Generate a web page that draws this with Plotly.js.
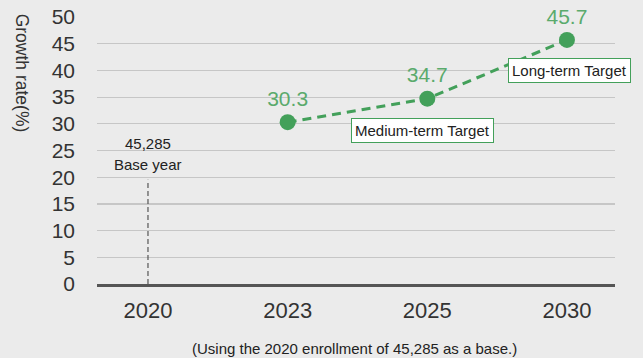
<!DOCTYPE html>
<html><head><meta charset="utf-8">
<script src="https://cdn.plot.ly/plotly-3.0.1.min.js"></script>
<style>html,body{margin:0;padding:0;background:#ebebeb;}</style>
</head><body><div id="chart" style="width:643px;height:358px;"></div>
<script>
const years = ['2020', '2023', '2025', '2030'];
const targetYears = ['2023', '2025', '2030'];
const growthRates = [30.3, 34.7, 45.7];
const rateLabels = ['30.3', '34.7', '45.7'];
const baseYear = '2020';
const baseEnrollmentLabel = '45,285';
const baseLineTop = 19.5;
const yTicks = [0, 5, 10, 15, 20, 25, 30, 35, 40, 45, 50];

const green = '#43a05a';
const font = 'Liberation Sans, Arial, Helvetica, sans-serif';
const idx = y => years.indexOf(y);

const traces = [
  {
    x: [baseYear, baseYear], y: [0, baseLineTop], mode: 'lines',
    line: {color: '#555555', width: 1.2, dash: '5px,3px'},
    hoverinfo: 'skip', showlegend: false
  },
  {
    x: targetYears, y: growthRates, mode: 'lines+markers+text',
    text: rateLabels, textposition: 'top center', cliponaxis: false,
    textfont: {family: font, size: 21, color: '#5aaa6c'},
    line: {color: green, width: 3, dash: '9px,6px'},
    marker: {color: green, size: 16},
    showlegend: false
  }
];

const layout = {
  width: 643, height: 358,
  margin: {l: 97, r: 28, t: 17, b: 74},
  paper_bgcolor: '#ebebeb', plot_bgcolor: '#ebebeb',
  font: {family: font, color: '#333333'},
  xaxis: {
    type: 'category', categoryorder: 'array', categoryarray: years,
    range: [-0.365, 3.344], showgrid: false, zeroline: false,
    showline: true, linecolor: '#555555', linewidth: 2.5,
    ticks: '', tickfont: {family: font, size: 22, color: '#333333'},
    ticklabelstandoff: 5, fixedrange: true
  },
  yaxis: {
    range: [0, 50], tickvals: yTicks, showgrid: true,
    gridcolor: '#c6c6c6', gridwidth: 1.2, zeroline: false,
    showline: false, ticks: '',
    tickfont: {family: font, size: 21, color: '#333333'},
    ticklabelstandoff: 21, fixedrange: true
  },
  annotations: [
    {xref: 'paper', yref: 'paper', x: -0.144, y: 0.79, xanchor: 'center', yanchor: 'middle',
     text: 'Growth rate(%)',
     textangle: 90, showarrow: false, font: {family: font, size: 17.5, color: '#333333'}},
    {xref: 'x', yref: 'y', x: idx(baseYear), y: 26.4, text: baseEnrollmentLabel,
     showarrow: false, font: {family: font, size: 15, color: '#222222'}},
    {xref: 'x', yref: 'y', x: idx(baseYear), y: 22.3, text: 'Base year',
     showarrow: false, font: {family: font, size: 15, color: '#222222'}},
    {xref: 'x', yref: 'y', x: idx('2025'), y: 28.8, xshift: -5, text: 'Medium-term Target',
     showarrow: false, bgcolor: '#ffffff', bordercolor: green, borderwidth: 1, borderpad: 3,
     font: {family: font, size: 15, color: '#222222'}},
    {xref: 'x', yref: 'y', x: idx('2030'), y: 40.0, xshift: 3, text: 'Long-term Target',
     showarrow: false, bgcolor: '#ffffff', bordercolor: green, borderwidth: 1, borderpad: 3,
     font: {family: font, size: 15, color: '#222222'}},
    {xref: 'paper', yref: 'paper', x: 0.497, y: -0.24, yanchor: 'middle',
     text: '(Using the 2020 enrollment of 45,285 as a base.)',
     showarrow: false, font: {family: font, size: 15, color: '#222222'}}
  ]
};

Plotly.newPlot('chart', traces, layout, {displayModeBar: false, staticPlot: true});
</script></body></html>
